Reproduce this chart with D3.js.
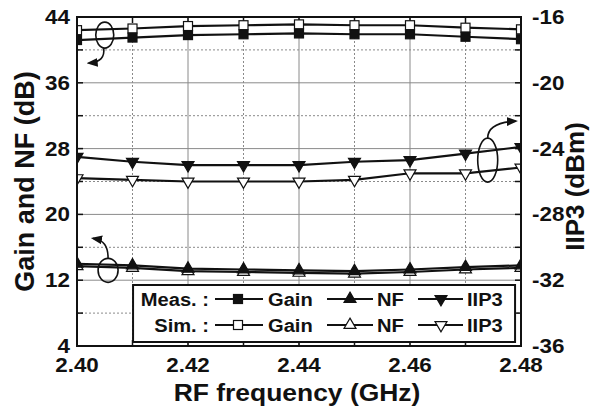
<!DOCTYPE html>
<html>
<head>
<meta charset="utf-8">
<script src="https://cdn.jsdelivr.net/npm/d3@7"></script>
<style>
  html, body { margin: 0; padding: 0; background: #fff; }
  svg { display: block; }
  text { font-family: "Liberation Sans", Arial, Helvetica, sans-serif; font-weight: bold; fill: #111; }
</style>
</head>
<body>
<svg id="chart" width="591" height="412"></svg>
<script>
// RF frequency sweep (GHz)
const freqs = [2.40, 2.41, 2.42, 2.43, 2.44, 2.45, 2.46, 2.47, 2.48];

// Gain (dB), left axis
const gainMeas = [41.2, 41.5, 41.8, 41.9, 42.0, 41.9, 41.9, 41.6, 41.3];
const gainSim  = [42.4, 42.6, 42.9, 43.0, 43.1, 43.0, 43.0, 42.7, 42.5];

// Noise figure (dB), left axis
const nfMeas = [14.0, 13.8, 13.4, 13.3, 13.2, 13.1, 13.3, 13.6, 13.8];
const nfSim  = [13.7, 13.5, 13.1, 13.0, 12.9, 12.8, 13.0, 13.3, 13.5];

// IIP3 (dBm), right axis
const iip3Meas = [-24.5, -24.8, -25.0, -25.0, -25.0, -24.8, -24.7, -24.3, -23.9];
const iip3Sim  = [-25.8, -25.9, -26.0, -26.0, -26.0, -25.9, -25.5, -25.5, -25.15];

// Tick labels
const xTicks = [2.40, 2.42, 2.44, 2.46, 2.48];
const yLeftTicks = [4, 12, 20, 28, 36, 44];
const yRightTicks = [-36, -32, -28, -24, -20, -16];

const svg = d3.select("#chart");
const W = 591, H = 412;
const m = { left: 77, right: 70, top: 17, bottom: 66 };
const pw = W - m.left - m.right, ph = H - m.top - m.bottom;

const x = d3.scaleLinear().domain([2.40, 2.48]).range([m.left, m.left + pw]);
const yL = d3.scaleLinear().domain([4, 44]).range([m.top + ph, m.top]);
const yR = d3.scaleLinear().domain([-36, -16]).range([m.top + ph, m.top]);

// helper for stretched bold text
function label(g, px, py, str, size, sx, anchor, rot) {
  return g.append("text")
    .attr("transform", `translate(${px},${py}) rotate(${rot || 0}) scale(${sx},1)`)
    .attr("text-anchor", anchor || "middle")
    .style("font-size", size + "px")
    .text(str);
}

const defs = svg.append("defs");
defs.append("clipPath").attr("id", "plotClip")
  .append("rect").attr("x", m.left).attr("y", m.top).attr("width", pw).attr("height", ph);
defs.append("marker").attr("id", "arrowHead")
  .attr("viewBox", "0 0 10 10").attr("refX", 8).attr("refY", 5)
  .attr("markerWidth", 7).attr("markerHeight", 7).attr("orient", "auto")
  .append("path").attr("d", "M0,1 L10,5 L0,9 Z").attr("fill", "#111");

// grid
const grid = svg.append("g");
const xMinor = d3.range(2.41, 2.475, 0.02);
const xMajor = [2.42, 2.44, 2.46];
const yMinor = [8, 16, 24, 32, 40];
const yMajor = [12, 20, 28, 36];
grid.selectAll(".xmin").data(xMinor).join("line")
  .attr("x1", d => x(d)).attr("x2", d => x(d)).attr("y1", m.top).attr("y2", m.top + ph)
  .attr("stroke", "#8a8a8a").attr("stroke-width", 1).attr("stroke-dasharray", "2,2");
grid.selectAll(".xmaj").data(xMajor).join("line")
  .attr("x1", d => x(d)).attr("x2", d => x(d)).attr("y1", m.top).attr("y2", m.top + ph)
  .attr("stroke", "#8a8a8a").attr("stroke-width", 1);
grid.selectAll(".ymin").data(yMinor).join("line")
  .attr("y1", d => yL(d)).attr("y2", d => yL(d)).attr("x1", m.left).attr("x2", m.left + pw)
  .attr("stroke", "#8a8a8a").attr("stroke-width", 1).attr("stroke-dasharray", "2,2");
grid.selectAll(".ymaj").data(yMajor).join("line")
  .attr("y1", d => yL(d)).attr("y2", d => yL(d)).attr("x1", m.left).attr("x2", m.left + pw)
  .attr("stroke", "#8a8a8a").attr("stroke-width", 1);

// inward ticks on all four sides
const tk = svg.append("g").attr("stroke", "#111").attr("stroke-width", 1.5);
const xTickAll = d3.range(2.40, 2.4805, 0.01);
const yTickAll = d3.range(4, 44.5, 4);
xTickAll.forEach(d => {
  tk.append("line").attr("x1", x(d)).attr("x2", x(d)).attr("y1", m.top).attr("y2", m.top + 6);
  tk.append("line").attr("x1", x(d)).attr("x2", x(d)).attr("y1", m.top + ph).attr("y2", m.top + ph - 6);
});
yTickAll.forEach(d => {
  tk.append("line").attr("y1", yL(d)).attr("y2", yL(d)).attr("x1", m.left).attr("x2", m.left + 6);
  tk.append("line").attr("y1", yL(d)).attr("y2", yL(d)).attr("x1", m.left + pw).attr("x2", m.left + pw - 6);
});

// series
const plot = svg.append("g").attr("clip-path", "url(#plotClip)");
const tri = d3.symbol().type(d3.symbolTriangle).size(62);
function series(vals, yScale, shape, filled) {
  const pts = freqs.map((f, i) => [x(f), yScale(vals[i])]);
  plot.append("path").attr("d", d3.line()(pts))
    .attr("fill", "none").attr("stroke", "#111").attr("stroke-width", 2.2);
  pts.forEach(p => {
    if (shape === "square") {
      plot.append("rect").attr("x", p[0] - 4.5).attr("y", p[1] - 4.5)
        .attr("width", 9).attr("height", 9)
        .attr("fill", filled ? "#111" : "#fff").attr("stroke", "#111").attr("stroke-width", 1.2);
    } else {
      const rot = shape === "down" ? 180 : 0;
      plot.append("path").attr("d", tri())
        .attr("transform", `translate(${p[0]},${p[1]}) rotate(${rot})`)
        .attr("fill", filled ? "#111" : "#fff").attr("stroke", "#111").attr("stroke-width", 1.2);
    }
  });
}
series(gainSim, yL, "square", false);
series(gainMeas, yL, "square", true);
series(nfSim, yL, "up", false);
series(nfMeas, yL, "up", true);
series(iip3Sim, yR, "down", false);
series(iip3Meas, yR, "down", true);

// frame
svg.append("rect").attr("x", m.left).attr("y", m.top).attr("width", pw).attr("height", ph)
  .attr("fill", "none").attr("stroke", "#111").attr("stroke-width", 2);

// annotations: ellipses with curved arrows toward each curve's axis
const ann = svg.append("g").attr("fill", "none").attr("stroke", "#111").attr("stroke-width", 1.6);
function note(cx, cy, rx, ry, pathD) {
  ann.append("ellipse").attr("cx", cx).attr("cy", cy).attr("rx", rx).attr("ry", ry);
  ann.append("path").attr("d", pathD).attr("marker-end", "url(#arrowHead)");
}
{
  const cx = x(2.405), cy = yL(41.8);
  note(cx, cy, 9, 13, `M${cx - 1},${cy + 13} C${cx},${cy + 22} ${cx - 4},${cy + 27} ${cx - 16},${cy + 28}`);
}
{
  const cx = x(2.474), cy = yR(-24.7);
  note(cx, cy, 10, 22, `M${cx},${cy - 22} C${cx},${cy - 32} ${cx + 8},${cy - 38} ${cx + 28},${cy - 39}`);
}
{
  const cx = x(2.4056), cy = yL(13.2);
  note(cx, cy, 10, 12, `M${cx},${cy - 12} C${cx},${cy - 24} ${cx - 4},${cy - 30} ${cx - 15},${cy - 32}`);
}

// legend
const lg = svg.append("g");
const lx0 = x(2.4101), ly0 = m.top + 268;
lg.append("rect").attr("x", lx0).attr("y", ly0).attr("width", 382).attr("height", 57)
  .attr("fill", "#fff").attr("stroke", "#111").attr("stroke-width", 2);
const rows = [
  { name: "Meas. :", filled: true, base: ly0 + 21 },
  { name: "Sim. :", filled: false, base: ly0 + 47 }
];
const items = [
  { shape: "square", text: "Gain", l0: 215, l1: 263, mk: 238, tx: 268 },
  { shape: "up", text: "NF", l0: 327, l1: 373, mk: 350, tx: 377 },
  { shape: "down", text: "IIP3", l0: 418, l1: 463, mk: 441, tx: 467 }
];
rows.forEach(r => {
  label(lg, 209, r.base, r.name, 19, 1.06, "end");
  const cy = r.base - 7;
  items.forEach(it => {
    lg.append("line").attr("x1", it.l0).attr("x2", it.l1).attr("y1", cy).attr("y2", cy)
      .attr("stroke", "#111").attr("stroke-width", 2);
    if (it.shape === "square") {
      lg.append("rect").attr("x", it.mk - 4.5).attr("y", cy - 4.5).attr("width", 9).attr("height", 9)
        .attr("fill", r.filled ? "#111" : "#fff").attr("stroke", "#111").attr("stroke-width", 1.2);
    } else {
      lg.append("path").attr("d", tri())
        .attr("transform", `translate(${it.mk},${cy}) rotate(${it.shape === "down" ? 180 : 0})`)
        .attr("fill", r.filled ? "#111" : "#fff").attr("stroke", "#111").attr("stroke-width", 1.2);
    }
    label(lg, it.tx, r.base, it.text, 19, 1.06, "start");
  });
});

// tick labels
const axes = svg.append("g");
xTicks.forEach(d => label(axes, x(d), m.top + ph + 26, d.toFixed(2), 20, 1.12, "middle"));
yLeftTicks.forEach(d => label(axes, 70, yL(d) + 7, String(d), 19.5, 1.15, "end"));
yRightTicks.forEach(d => label(axes, 532, yR(d) + 7, String(d), 19.5, 1.15, "start"));

// axis titles
label(axes, (m.left + m.left + pw) / 2 - 2, 401, "RF frequency (GHz)", 23, 1.15, "middle");
label(axes, 34, m.top + ph / 2, "Gain and NF (dB)", 27, 1, "middle", -90);
label(axes, 584, m.top + ph / 2 + 5, "IIP3 (dBm)", 26, 1, "middle", -90);
</script>
</body>
</html>
